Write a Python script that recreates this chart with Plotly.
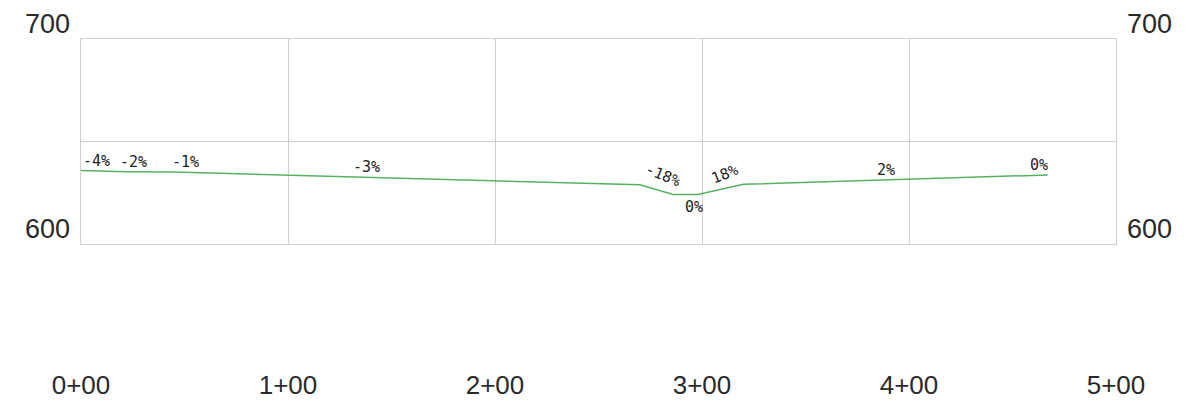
import numpy as np
import plotly.graph_objects as go

# Profile data (station in ft, elevation in ft)
stations = [0, 10, 22, 45, 270, 286, 298, 320, 455, 467]
elevations = [635.8, 635.5, 635.3, 635.1, 628.9, 624.2, 624.1, 629.1, 633.6, 633.7]

# Grade labels
grade_labels = ["-4%", "-2%", "-1%", "-3%", "-18%", "0%", "18%", "2%", "0%"]
grade_sta = [7.7, 25.6, 50.5, 138, 281, 296, 311, 389, 463]
grade_side = ["above", "above", "above", "above", "above", "below", "above", "above", "above"]
grade_angle = [0, 0, 0, 0, 22, 0, -22, 0, 0]

# Axis ticks
x_ticks = [0, 100, 200, 300, 400, 500]
x_ticktext = ["0+00", "1+00", "2+00", "3+00", "4+00", "5+00"]
y_ticks = [600, 700]
y_ticktext = ["600", "700"]

W, H = 1188, 407
ML, MR, MT = 73, 80, 31
PH = 205
MB = H - MT - PH

fig = go.Figure()

fig.add_trace(go.Scatter(
    x=stations, y=elevations, mode="lines",
    line=dict(color="rgb(84,178,96)", width=1.5),
    hoverinfo="skip", showlegend=False,
))

label_font = dict(family="DejaVu Sans Mono", size=15, color="#222")
for txt, s, side, ang in zip(grade_labels, grade_sta, grade_side, grade_angle):
    e = float(np.interp(s, stations, elevations))
    fig.add_annotation(
        x=s, y=e, xref="x", yref="y", text=txt, showarrow=False,
        font=label_font, textangle=ang,
        yanchor="bottom" if side == "above" else "top",
        yshift=-1,
    )

xtick_font = dict(family="Liberation Sans", size=26, color="#2a2a2a")
ytick_font = dict(family="Liberation Sans", size=27, color="#2a2a2a")
fig.update_layout(
    width=W, height=H,
    margin=dict(l=ML, r=MR, t=MT, b=MB),
    paper_bgcolor="white", plot_bgcolor="white",
    xaxis=dict(
        range=[0, 500], tickvals=x_ticks, ticktext=x_ticktext,
        showgrid=True, gridcolor="#cfcfcf", gridwidth=1,
        zeroline=False, showline=True, linecolor="#cfcfcf", mirror=True,
        ticks="", tickfont=xtick_font, ticklabelstandoff=118,
    ),
    yaxis=dict(
        range=[600, 700], tickvals=[650], ticktext=[""],
        showgrid=True, gridcolor="#cfcfcf", gridwidth=1,
        zeroline=False, showline=True, linecolor="#cfcfcf", mirror=True,
        ticks="", showticklabels=False,
    ),
)

# Elevation labels on both sides, sitting just above their levels
for v, t in zip(y_ticks, y_ticktext):
    fig.add_annotation(x=0, y=v, xref="paper", yref="y", text=t, showarrow=False,
                       font=ytick_font, xanchor="right", yanchor="bottom",
                       xshift=-9, yshift=-2)
    fig.add_annotation(x=1, y=v, xref="paper", yref="y", text=t, showarrow=False,
                       font=ytick_font, xanchor="left", yanchor="bottom",
                       xshift=9, yshift=-2)

fig.write_html("out.html")
